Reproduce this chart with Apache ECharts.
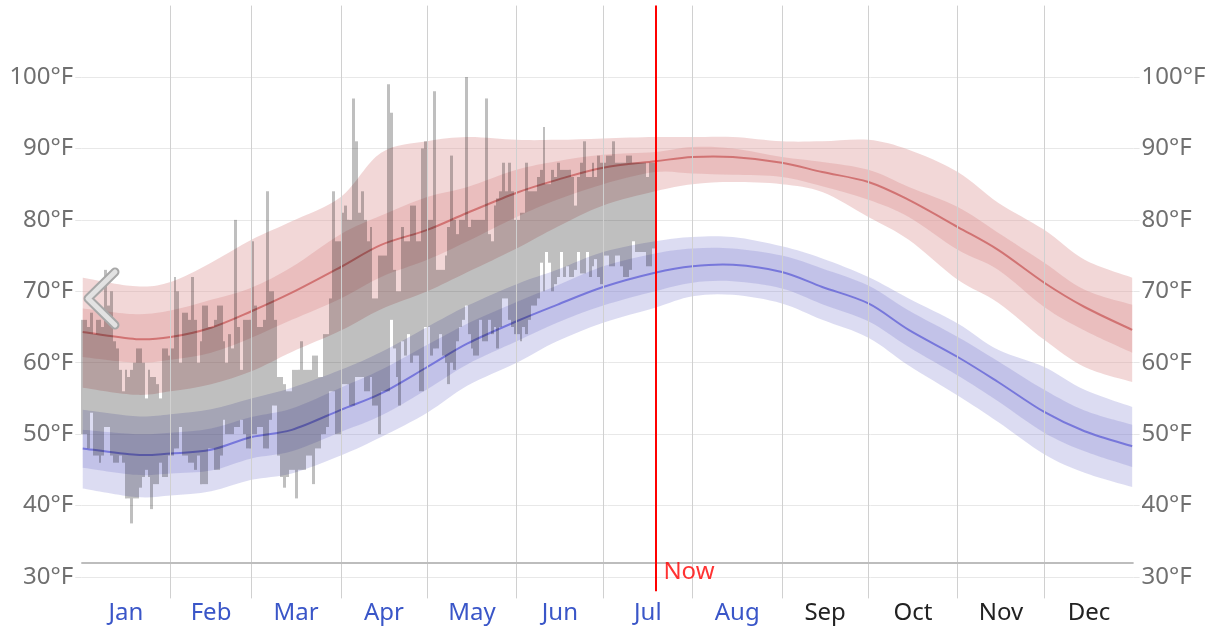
<!DOCTYPE html>
<html><head><meta charset="utf-8">
<script src="https://cdn.jsdelivr.net/npm/echarts@6/dist/echarts.min.js"></script>
<style>html,body{margin:0;padding:0;background:#fff}#c{width:1214px;height:629px}</style>
</head><body><div id="c"></div>
<script>
const months = ['Jan','Feb','Mar','Apr','May','Jun','Jul','Aug','Sep','Oct','Nov','Dec'];
const linkedMonths = 8; // Jan..Aug shown as links
const monthStarts = [31,59,90,120,151,181,212,243,273,304,334];
const monthMids = [15.5,45,74.5,105,135.5,166,196.5,227.5,258,288.5,319,349.5];
const yTicks = [30,40,50,60,70,80,90,100];
const freezing = 32;
const nowDay = 199.3;

// band sample days (day of year)
const bandDays = [0.5,19,31,45,59,73,90,104,120,134,151,165,181,199,212,226,243,257,273,287,304,318,334,348,364.5];
// daily high percentiles / average
const hi90  = [71.9,70.7,71.3,74,77.2,79.8,83.2,89.4,91,91.6,91.2,91.2,91.4,91.6,91.6,91.6,91,91,91.2,89.8,86.7,82.4,78.6,74.4,71.9];
const hi75  = [67.6,66.8,67.3,68.8,70.5,73.4,78,80.6,83.2,84.6,87,88.2,89.1,89.5,90.2,90,88.8,88.1,87,84.6,81.8,78.2,74,70.2,68.1];
const hiAvg = [64.3,63.3,63.6,64.9,67.2,69.8,73.4,76.5,78.6,81,83.8,85.6,87.3,88.2,88.8,88.8,88,86.7,85.3,82.8,79,75.8,71.2,67.8,64.6];
const hi25  = [60.8,60,60.4,61.4,63.5,66,69,72,74.4,77,80.4,82.8,85,86.7,86.5,86.3,86,84.7,82.8,80.4,75.8,73,67.8,64.5,61.4];
const hi10  = [56.5,55.5,56,57,58.8,61.5,64.5,67.5,70,72.7,76,79,82,84,85,85.3,85,83.9,80.4,77.2,71.6,68.4,63.2,59.4,57.3];
// daily low percentiles / average
const lo90  = [53.4,52.5,52.8,53.5,55,56.5,59,61.5,65,68,71,73,75.5,77,77.6,77.6,76.3,74.6,72,69,65.5,61.8,59.4,56.2,53.8];
const lo75  = [50.6,50,50.2,50.8,52.4,53.6,56.5,59,62.5,65.5,68.5,70.8,73.5,75.3,76,76,75,73.2,70.8,67.3,63.6,60.2,56.2,53.3,51.3];
const loAvg = [48,47.1,47.3,47.8,49.6,50.6,53.4,55.7,59.4,62.7,65.8,68.1,70.6,72.6,73.5,73.7,72.7,70.6,68.3,64.6,60.8,57.3,53.1,50.4,48.3];
const lo25  = [45.3,44.3,44.5,44.9,46.6,47.6,50.3,52.6,56.3,59.8,63,65.6,68,70,71.2,71.4,70.4,68.2,65.8,62.2,58.2,54.6,50.2,47.6,45.4];
const lo10  = [42.4,41.2,41.4,42,43.6,44.5,47,49.6,53,56.8,60,63,65.6,67.7,69.3,69.5,68.3,66,63.5,59.6,55.4,51.7,47.2,44.6,42.6];

// observed daily high / low, from Jan 1 (day 0)
const obsHigh = [
66,66,65,67,64,66,66,65,73,68, 70,63,62,59,56,59,58,59,60,62,
62,60,55,59,58,58,57,55,62,62, 61,62,72,70,60,67,67,66,72,66,
60,63,68,68,65,65,66,68,68,63, 60,64,62,80,65,59,66,66,66,77,
68,65,65,66,84,70,70,66,58,58, 57,56,56,59,59,59,63,59,59,59,
61,61,58,58,64,64,69,84,77,77, 81,82,80,80,97,91,81,84,80,77,
79,69,69,75,75,75,99,95,73,70, 70,79,77,77,82,82,77,77,90,91,
80,80,98,73,73,73,75,79,89,80, 78,80,80,100,79,80,80,80,80,80,
97,78,77,82,83,84,88,84,88,84, 80,80,81,81,88,84,84,84,86,87,
93,85,85,87,86,88,87,87,87,87, 86,82,86,88,91,86,86,88,86,89,
88,88,89,89,91,88,88,88,88,89, 89,88,88,88,88,88,86,88,88];
const obsLow = [
50,50,48,53,47,47,46,47,51,51, 47,46,46,47,46,41,41,37.5,41,41,
42.5,44,45,44,39.5,43,43,46,44,44, 47,47,48,48,51,47,47,46,46,45,
47,43,43,43,48,48,45,45,47,52, 50,50,50,51,51,52,50,48,48,50,
50,51,51,48,48,52,54,54,47,44, 42.5,44,45,45,41,45,45,45,47,47,
43,48,48,50,50,51,56,56,50,50, 57,57,57,54,54,58,58,58,56,56,
58,54,54,50,56,56,56,66,62,58, 54,63,61,64,60,61,61,56,56,65,
65,61,62,62,64,61,60,57,60,59, 63,65,66,68,64,62,61,61,66,63,
63,66,64,65,62,65,69,69,66,65, 64,64,63,65,64,66,68,68,69,74,
70,75.5,74,70,71,72,75.5,72,73.5,72, 72,73,75.5,72.5,72.5,75.5,72,73.5,74.5,72,
71,75,75,73.5,73.5,75,75,73.5,72,72, 73,77,75.5,75.5,75.5,75.5,73.5,73.5,76];

const FONT = '"Noto Sans", "Open Sans", sans-serif';

// Catmull-Rom through pixel points -> cubic bezier path commands
function curveCmds(pts, start) {
  let s = (start ? 'M' : 'L') + pts[0][0] + ' ' + pts[0][1];
  for (let i = 0; i < pts.length - 1; i++) {
    const p0 = pts[Math.max(0, i - 1)], p1 = pts[i], p2 = pts[i + 1], p3 = pts[Math.min(pts.length - 1, i + 2)];
    const c1 = [p1[0] + (p2[0] - p0[0]) / 6, p1[1] + (p2[1] - p0[1]) / 6];
    const c2 = [p2[0] - (p3[0] - p1[0]) / 6, p2[1] - (p3[1] - p1[1]) / 6];
    s += 'C' + c1[0] + ' ' + c1[1] + ' ' + c2[0] + ' ' + c2[1] + ' ' + p2[0] + ' ' + p2[1];
  }
  return s;
}

function bandSeries(name, lower, upper, color) {
  return {
    type:'custom', name:name, silent:true, z:1,
    data: bandDays.map((d,i)=>[d, lower[i], upper[i]]),
    encode:{x:0, y:[1,2]},
    renderItem:function(params, api){
      if (params.dataIndex !== 0) return null;
      const up = bandDays.map((d,i)=>api.coord([d, upper[i]]));
      const lo = bandDays.map((d,i)=>api.coord([d, lower[i]])).reverse();
      return {type:'path', shape:{pathData: curveCmds(up, true) + curveCmds(lo, false) + 'Z'}, style:{fill:color}};
    }
  };
}

function avgSeries(name, values, color) {
  return {
    type:'custom', name:name, silent:true, z:2,
    data: bandDays.map((d,i)=>[d, values[i]]),
    encode:{x:0, y:1},
    renderItem:function(params, api){
      if (params.dataIndex !== 0) return null;
      const pts = bandDays.map((d,i)=>api.coord([d, values[i]]));
      return {type:'path', shape:{pathData: curveCmds(pts, true)},
              style:{fill:null, stroke:color, lineWidth:2, lineJoin:'round'}};
    }
  };
}

const RED_BAND = 'rgba(220,148,148,0.375)';
const BLUE_BAND = 'rgba(127,127,206,0.27)';

const series = [
  bandSeries('hiOuter', hi10, hi90, RED_BAND),
  bandSeries('hiInner', hi25, hi75, RED_BAND),
  bandSeries('loOuter', lo10, lo90, BLUE_BAND),
  bandSeries('loInner', lo25, lo75, BLUE_BAND),
  avgSeries('avgHigh', hiAvg, 'rgba(200,90,90,0.75)'),
  avgSeries('avgLow', loAvg, 'rgba(100,100,215,0.8)'),
  {type:'custom', name:'observed', silent:true, z:3,
   data: obsHigh.map((h,i)=>[i, obsLow[i], h]),
   encode:{x:0, y:[1,2]},
   renderItem:function(params, api){
     const d = api.value(0), lo = api.value(1), hi = api.value(2);
     const p0 = api.coord([d, hi]);
     const p1 = api.coord([d+1, lo]);
     const x0 = Math.round(p0[0]), x1 = Math.round(p1[0]);
     return {type:'rect', shape:{x:x0, y:p0[1], width:x1-x0, height:p1[1]-p0[1]},
             style:{fill:'rgba(0,0,0,0.25)'}};
   }},
  {type:'line', name:'grid', data:[], silent:true, z:0,
   markLine:{silent:true, symbol:['none','none'], label:{show:false}, animation:false,
     lineStyle:{color:'#d0d0d0', width:1, type:'solid'},
     data: monthStarts.map(v=>({xAxis:v})).concat([{yAxis:freezing, lineStyle:{color:'#bdbdbd', width:2}}])}},
  {type:'scatter', name:'now', silent:true, z:10, symbolSize:1,
   itemStyle:{color:'rgba(0,0,0,0)'},
   data:[[nowDay, 30.7]],
   label:{show:true, position:'right', distance:7, formatter:'Now', color:'#ff0000', fontSize:24, fontFamily:FONT},
   markLine:{silent:true, symbol:['none','none'], label:{show:false}, animation:false,
     lineStyle:{color:'#ff0000', width:2, type:'solid'},
     data:[[{coord:[nowDay, 28]},{coord:[nowDay, 110]}]]}}
];

const yAxisBase = (pos) => ({
  type:'value', min:27, max:110, position:pos,
  axisLine:{show:false},
  axisTick:{show:true, length:6, lineStyle:{color:'#e6e6e6'}, customValues:yTicks},
  axisLabel:{customValues:yTicks, formatter:v=>v+'°F', fontSize:24, color:'#707070', margin:8, fontFamily:FONT},
  splitLine:{show:pos==='left', lineStyle:{color:'#e8e8e8', width:1}}
});

const chart = echarts.init(document.getElementById('c'), null, {renderer:'canvas'});
chart.setOption({
  animation:false,
  backgroundColor:'#ffffff',
  grid:{left:81.3, right:80.4, top:5.6, bottom:30.6, containLabel:false},
  xAxis:{type:'value', min:0, max:365,
    axisLine:{show:false}, axisTick:{show:false}, splitLine:{show:false},
    axisLabel:{customValues:monthMids, margin:3, fontSize:24, fontFamily:FONT,
      formatter:function(v){
        let idx = 0, best = 1e9;
        monthMids.forEach((m,i)=>{ if (Math.abs(m-v)<best){best=Math.abs(m-v); idx=i;} });
        return (idx < linkedMonths ? '{b|' : '{k|') + months[idx] + '}';
      },
      rich:{b:{color:'#3a56c8', fontSize:24, fontFamily:FONT}, k:{color:'#222222', fontSize:24, fontFamily:FONT}}}},
  yAxis:[yAxisBase('left'), yAxisBase('right')],
  series: series,
  graphic:[
    {type:'polyline', z:100, silent:true, shape:{points:[[115,272],[88,298.5],[115,325]]},
     style:{stroke:'#a8a8a8', lineWidth:9, lineCap:'round', lineJoin:'round', fill:null}},
    {type:'polyline', z:101, silent:true, shape:{points:[[115,272],[88,298.5],[115,325]]},
     style:{stroke:'#e2e2e2', lineWidth:5, lineCap:'round', lineJoin:'round', fill:null}}
  ]
});
</script></body></html>
